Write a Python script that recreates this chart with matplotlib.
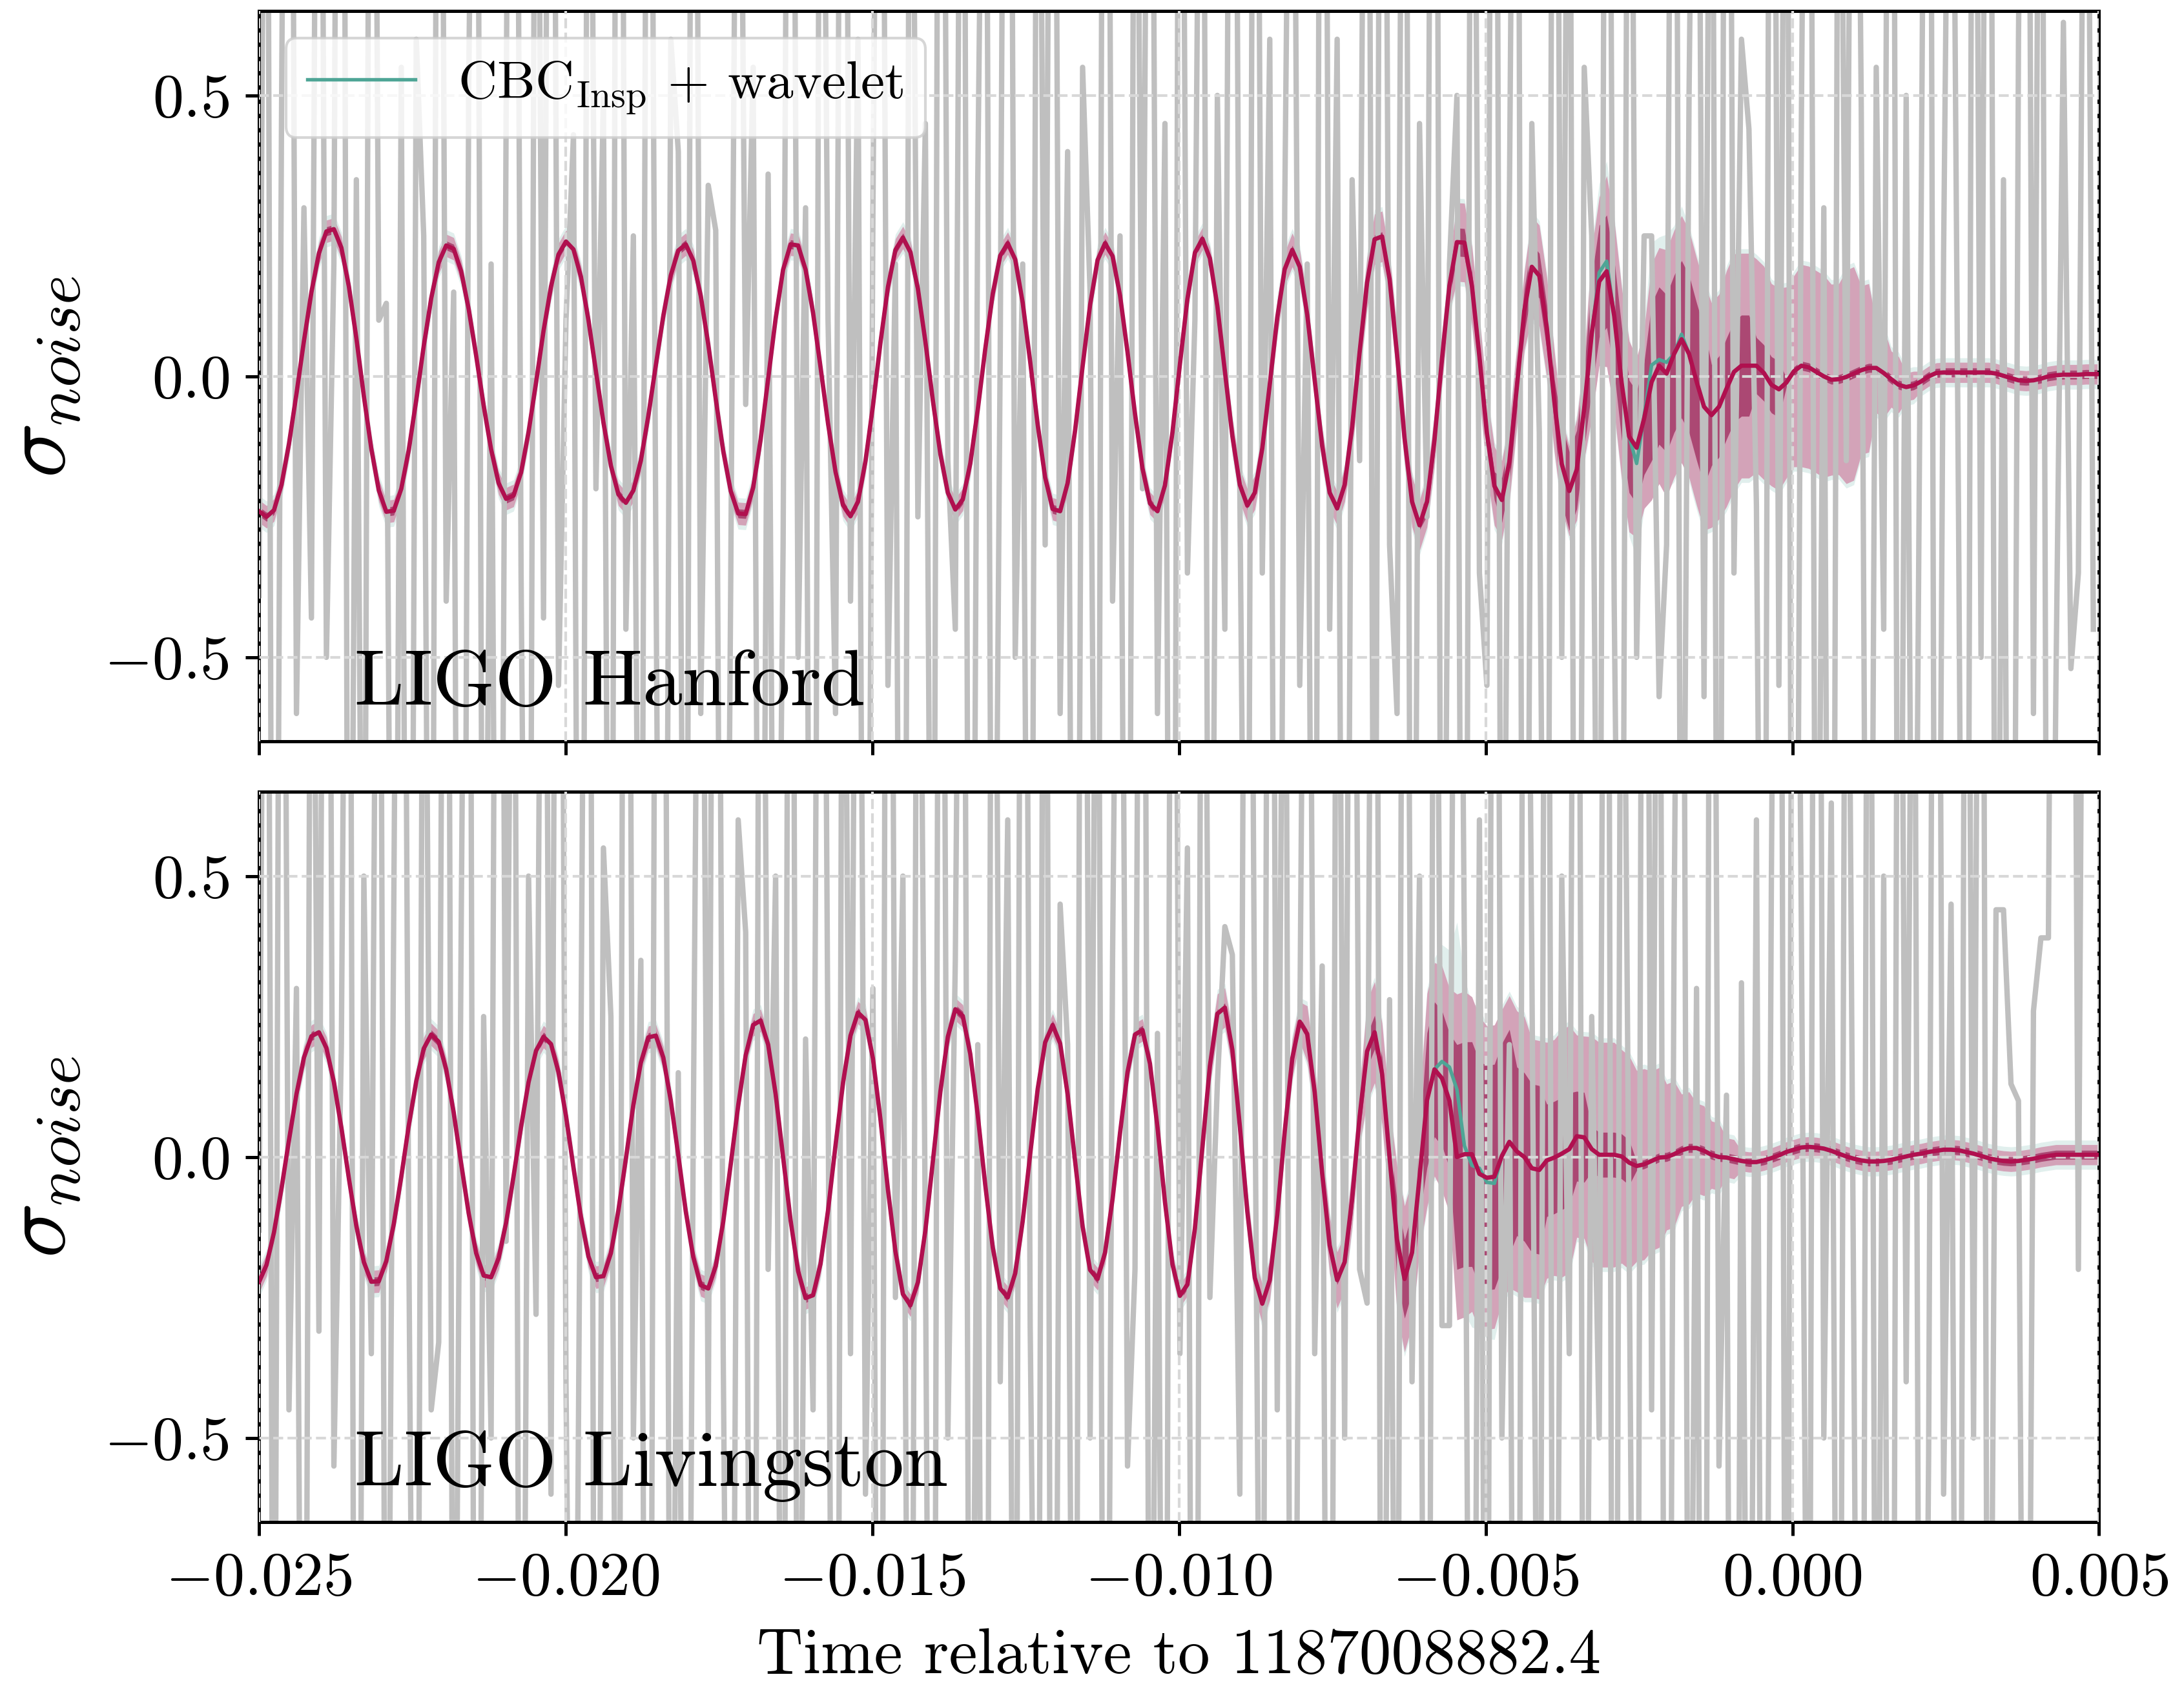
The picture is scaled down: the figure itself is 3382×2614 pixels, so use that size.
import numpy as np
import matplotlib
matplotlib.use("Agg")
from matplotlib import pyplot as plt

# sampling of the reconstructed waveforms and of the whitened strain
t_start = -0.025
fs_wave = 8192
fs_band = 4096
fs_noise = 8192

# median waveform, LIGO Hanford (one value per 1/8192 s)
wave_h = [
    -0.24, -0.25, -0.238, -0.193, -0.12, -0.031, 0.063, 0.15, 0.219, 0.258,
    0.262, 0.229, 0.16, 0.068, -0.035, -0.129, -0.203, -0.241, -0.239, -0.2,
    -0.131, -0.042, 0.054, 0.139, 0.203, 0.233, 0.227, 0.187, 0.12, 0.037,
    -0.052, -0.13, -0.19, -0.218, -0.212, -0.171, -0.099, -0.011, 0.081, 0.16,
    0.217, 0.24, 0.226, 0.177, 0.10, 0.009, -0.082, -0.159, -0.21, -0.225,
    -0.203, -0.15, -0.07, 0.02, 0.108, 0.18, 0.224, 0.235, 0.206, 0.143,
    0.057, -0.04, -0.133, -0.204, -0.244, -0.245, -0.198, -0.112, -0.005, 0.103,
    0.19, 0.235, 0.233, 0.19, 0.113, 0.016, -0.084, -0.17, -0.229, -0.249,
    -0.223, -0.151, -0.052, 0.06, 0.159, 0.225, 0.247, 0.221, 0.156, 0.062,
    -0.043, -0.138, -0.207, -0.237, -0.219, -0.155, -0.059, 0.049, 0.147, 0.215,
    0.237, 0.208, 0.131, 0.026, -0.086, -0.18, -0.236, -0.24, -0.19, -0.096,
    0.018, 0.127, 0.207, 0.237, 0.214, 0.144, 0.043, -0.067, -0.164, -0.226,
    -0.24, -0.194, -0.10, 0.022, 0.138, 0.22, 0.245, 0.21, 0.125, 0.01,
    -0.106, -0.193, -0.23, -0.207, -0.128, -0.014, 0.105, 0.191, 0.225, 0.195,
    0.11, -0.007, -0.124, -0.207, -0.235, -0.193, -0.09, 0.043, 0.167, 0.244,
    0.249, 0.173, 0.039, -0.11, -0.223, -0.265, -0.223, -0.113, 0.031, 0.162,
    0.239, 0.238, 0.161, 0.035, -0.101, -0.195, -0.22, -0.152, -0.019, 0.117,
    0.195, 0.179, 0.087, -0.044, -0.156, -0.204, -0.166, -0.057, 0.076, 0.169,
    0.187, 0.108, -0.012, -0.107, -0.127, -0.075, -0.01, 0.019, 0.005, 0.04,
    0.066, 0.04, -0.009, -0.054, -0.069, -0.054, -0.022, 0.008, 0.019, 0.019,
    0.019, 0.006, -0.015, -0.023, -0.011, 0.009, 0.019, 0.016, 0.008, 0.0,
    -0.006, -0.005, -0.001, 0.005, 0.011, 0.015, 0.015, 0.006, -0.005, -0.015,
    -0.019, -0.016, -0.009, 0.0, 0.006, 0.007, 0.007, 0.007, 0.007, 0.007,
    0.007, 0.007, 0.005, 0.001, -0.003, -0.007, -0.008, -0.007, -0.004, 0.0,
    0.002, 0.003, 0.003, 0.003, 0.004, 0.004, 0.004,
]

# median waveform, LIGO Livingston
wave_l = [
    -0.222, -0.192, -0.134, -0.056, 0.03, 0.112, 0.177, 0.215, 0.222, 0.194,
    0.133, 0.052, -0.038, -0.123, -0.187, -0.222, -0.221, -0.185, -0.119, -0.035,
    0.056, 0.135, 0.193, 0.218, 0.205, 0.156, 0.079, -0.012, -0.10, -0.171,
    -0.211, -0.214, -0.18, -0.117, -0.034, 0.054, 0.133, 0.189, 0.214, 0.201,
    0.151, 0.073, -0.019, -0.107, -0.177, -0.214, -0.212, -0.171, -0.095, -0.003,
    0.093, 0.168, 0.213, 0.216, 0.177, 0.10, 0.003, -0.097, -0.178, -0.228,
    -0.234, -0.194, -0.115, -0.013, 0.092, 0.181, 0.235, 0.243, 0.20, 0.112,
    0.0, -0.113, -0.203, -0.251, -0.246, -0.19, -0.095, 0.021, 0.132, 0.216,
    0.257, 0.244, 0.175, 0.067, -0.058, -0.168, -0.244, -0.264, -0.223, -0.131,
    -0.008, 0.116, 0.214, 0.263, 0.251, 0.183, 0.074, -0.05, -0.161, -0.234,
    -0.25, -0.207, -0.114, 0.005, 0.121, 0.204, 0.235, 0.202, 0.112, -0.008,
    -0.124, -0.201, -0.217, -0.17, -0.075, 0.043, 0.151, 0.218, 0.226, 0.166,
    0.053, -0.08, -0.191, -0.247, -0.227, -0.127, 0.018, 0.162, 0.255, 0.266,
    0.191, 0.055, -0.097, -0.215, -0.261, -0.219, -0.103, 0.046, 0.175, 0.241,
    0.219, 0.115, -0.029, -0.157, -0.219, -0.187, -0.074, 0.072, 0.188, 0.222,
    0.148, -0.001, -0.147, -0.217, -0.17, -0.036, 0.101, 0.156, 0.14, 0.1,
    0.0, 0.005, 0.005, -0.03, -0.037, -0.035, 0.002, 0.027, 0.01, 0.0,
    -0.02, -0.023, -0.006, -0.001, 0.006, 0.014, 0.037, 0.035, 0.014, 0.004,
    0.004, 0.004, 0.001, -0.01, -0.016, -0.013, -0.007, -0.001, 0.0, 0.005,
    0.012, 0.016, 0.016, 0.011, 0.004, 0.0, -0.001, -0.004, -0.007, -0.009,
    -0.009, -0.006, -0.002, 0.003, 0.009, 0.013, 0.017, 0.018, 0.017, 0.015,
    0.011, 0.006, 0.001, -0.003, -0.006, -0.008, -0.008, -0.007, -0.005, -0.002,
    0.001, 0.004, 0.006, 0.009, 0.011, 0.013, 0.013, 0.012, 0.009, 0.006,
    0.002, -0.002, -0.005, -0.007, -0.008, -0.007, -0.005, -0.003, 0.0, 0.002,
    0.004, 0.004, 0.004, 0.004, 0.004, 0.004, 0.004,
]

# samples where the CBC_Insp + wavelet median differs from the other one
teal_idx_h = [179, 180, 184, 185, 186, 187, 188, 190]
teal_val_h = [0.185, 0.205, -0.155, -0.07, 0.02, 0.03, 0.025, 0.075]
teal_idx_l = [158, 159, 160, 161, 162, 163, 164, 165]
teal_val_l = [0.17, 0.16, 0.12, 0.02, -0.015, -0.02, -0.045, -0.047]

# credible band half widths (outer / inner), one value per 1/4096 s
band_out_h = ([0.02] * 64 + [0.03] * 9 + [0.045] * 7 + [0.07] * 5
              + [0.09, 0.09, 0.08, 0.09, 0.15, 0.17, 0.17, 0.16, 0.21, 0.22,
                 0.22, 0.22, 0.2, 0.21, 0.2, 0.19, 0.18, 0.17, 0.18, 0.18,
                 0.17, 0.19, 0.15, 0.08, 0.05, 0.025]
              + [0.018] * 13)
band_in_h = ([0.008] * 78 + [0.025] * 5 + [0.04] * 4 + [0.07] * 2 + [0.1] * 4
             + [0.14] * 4 + [0.09] * 3 + [0.05] * 2 + [0.008] * 22)
band_out_l = ([0.02] * 63 + [0.035] * 7 + [0.05] * 4
              + [0.09, 0.09, 0.13, 0.13, 0.19, 0.2, 0.29, 0.28, 0.27, 0.26,
                 0.25, 0.23, 0.21, 0.22, 0.18, 0.2, 0.2, 0.19, 0.17, 0.16,
                 0.13, 0.1, 0.08, 0.06, 0.035]
              + [0.018] * 25)
band_in_l = ([0.008] * 73 + [0.03] * 3 + [0.07] * 2 + [0.12] * 2 + [0.2] * 4
             + [0.15] * 2 + [0.1] * 2 + [0.08] + [0.04] * 3 + [0.008] * 32)

# whitened strain in hundredths, one value per 1/8192 s (mostly far off scale)
noise_h = [
    -39, 180, -240, 45, 260, -60, 30, -43, 210, -50, 20, 300, -190, 35, -160, 230, 10, 13, -200, 55,
    -250, 60, 25, -210, 240, -40, 15, -280, 50, 190, -170, 20, -230, 45, 270, -35, -200, 170, -43, 240,
    -55, 10, 43, -250, 180, -20, 50, -210, 290, -45, 25, -170, 220, -30, -240, 60, 40, -190, 250, -60,
    34, 26, -220, -37, 170, -5, 55, -200, 36, -170, -30, 240, -50, 30, -250, 180, 10, -60, 240, -40,
    60, -220, 30, 200, -55, 20, -260, 170, -25, 45, -180, 250, -15, -45, 210, -240, 35, 160, -170, 5,
    260, -50, 20, -210, 170, -30, 220, -60, 40, -250, 55, 15, -180, 280, -40, 25, -220, 160, -20, 200,
    -60, 45, -260, 210, -35, 10, 180, -200, 50, -45, 240, -20, -170, 220, -35, 60, -240, 30, 170, -55,
    20, -200, 290, -45, 60, -240, 35, -15, 210, -160, 250, -30, -60, 220, -210, 45, -25, 270, -180, 20,
    50, -240, 200, -35, -55, 260, -170, 30, 210, -250, 45, -10, -200, 240, -50, 160, -270, 55, 25, -160,
    220, -40, -170, 200, -50, 25, 25, -57, -30, 240, -160, 50, 180, -57, 170, -220, 270, -35, 60, 44,
    -23, -200, 250, -55, 170, -240, 45, 220, -160, 30, -260, 160, -15, 200, 48, -220, 55, -45, 270, -180,
    50, -160, 28, 240, -210, 22, 160, -26, -240, 210, -50, 260, -170, 35, -250, 60, 220, -60, 180, -200,
    -55, 63, -52, -35, 170, -45,
]
noise_l = [
    -13, 200, -160, 240, -45, 30, -220, 170, -31, 260, -55, 20, 210, -260, 50, -35, 200, -170, 45, 240,
    -14, -200, 160, -45, -33, 250, -160, 40, 220, -240, 25, -50, 270, -15, 170, -210, 50, -28, 200, -60,
    260, -40, -180, 19, 240, -220, 55, 25, -170, 290, -50, 35, -260, 160, 210, -160, 15, -220, 5, 180,
    -50, 250, -35, -200, 60, 40, -250, 220, -20, 50, -180, 270, -160, 21, -45, 240, 15, -260, 160, -35,
    200, -60, 30, -240, 290, -25, 50, -210, 170, -15, -240, 250, -50, 35, 200, -170, 20, -270, 220, -40,
    60, -180, 260, -30, -160, 210, -240, 45, 20, -200, 270, -50, 160, -220, 35, 180, -55, -20, 250, -160,
    22, -210, 240, -35, 55, -260, 200, -25, 13, 41, 36, -60, 240, 17, -170, 260, -45, 160, -220, 20,
    200, -35, 34, -240, 170, -50, 220, -20, -26, 260, -180, 28, -160, 250, -40, 50, -260, 180, -30, -30,
    210, 36, -220, 60, -170, 270, -50, 20, -250, 200, 35, -160, 240, -210, 50, -35, 260, -180, 25, -50,
    240, -250, 160, -15, -200, 270, -45, 180, -260, 40, 220, -160, 30, -240, 250, -55, 11, -290, 31, -170,
    60, -220, 50, 250, -180, 210, 41, -160, 290, -50, 63, -200, 170, -30, -250, 220, -160, 50, -270, 200,
    -40, 160, -220, -53, 260, -60, 45, -240, 200, -50, 240, -180, 44, 44, 13, 10, -210, 26, 39, 39,
    270, 300, 250, -20, 220, 260,
]

detectors = ["LIGO Hanford", "LIGO Livingston"]
xticks = [-0.025, -0.020, -0.015, -0.010, -0.005, 0.000, 0.005]
yticks = [-0.5, 0.0, 0.5]

plt.rcParams.update({
    "font.family": ["cmr10", "DejaVu Serif"],
    "mathtext.fontset": "cm",
    "axes.formatter.use_mathtext": True,
    "axes.linewidth": 1.2,
})

fig, axes = plt.subplots(2, 1, figsize=(3382 / 300, 2614 / 300), dpi=300, sharex=True)
fig.subplots_adjust(left=0.1186, right=0.9611, top=0.9934, bottom=0.0982, hspace=0.0687)

panels = [
    (wave_h, teal_idx_h, teal_val_h, band_out_h, band_in_h, noise_h),
    (wave_l, teal_idx_l, teal_val_l, band_out_l, band_in_l, noise_l),
]

for ax, name, (wave, t_idx, t_val, b_out, b_in, noise) in zip(axes, detectors, panels):
    wave = np.array(wave)
    teal = wave.copy()
    teal[t_idx] = t_val
    t_w = t_start + np.arange(len(wave)) / fs_wave
    t_n = t_start + np.arange(len(noise)) / fs_noise
    # band widths were read every 1/4096 s: hold each over two waveform samples
    step = fs_wave // fs_band
    b_out = np.repeat(b_out, step)[:len(wave)]
    b_in = np.repeat(b_in, step)[:len(wave)]

    ax.fill_between(t_w, teal - b_out - 0.008, teal + b_out + 0.008,
                    color="#a9d3cd", alpha=0.35, lw=0, zorder=1)
    ax.fill_between(t_w, wave - b_out, wave + b_out, color="#d3a3b8", lw=0, zorder=1.2)
    ax.fill_between(t_w, wave - b_in, wave + b_in, color="#ab4873", lw=0, zorder=1.4)
    ax.plot(t_n, np.array(noise) / 100, color="#bfbfbf", lw=2.0, zorder=2)
    ax.plot(t_w, teal, color="#4ea596", lw=1.3, zorder=3,
            label=r"CBC$_{\rm Insp}$ + wavelet")
    ax.plot(t_w, wave, color="#b0104f", lw=1.6, zorder=3.5)

    ax.set_xlim(-0.025, 0.005)
    ax.set_ylim(-0.65, 0.65)
    ax.set_yticks(yticks)
    ax.set_xticks(xticks)
    ax.set_axisbelow(False)
    ax.grid(True, ls="--", color="#d8d8d8", lw=1.0)
    ax.tick_params(direction="out", length=5, width=1.2, labelsize=23, pad=6)
    ax.set_ylabel(r"$\sigma_{noise}$", fontsize=34)
    ax.yaxis.set_label_coords(-0.096, 0.5)
    ax.text(0.052, 0.05, name, transform=ax.transAxes, fontsize=29.5,
            ha="left", va="baseline", zorder=5)

axes[0].legend(loc="upper left", fontsize=20, framealpha=0.8)
axes[1].set_xlabel("Time relative to 1187008882.4", fontsize=23.8, labelpad=8)

plt.savefig("out.png", dpi=300)
